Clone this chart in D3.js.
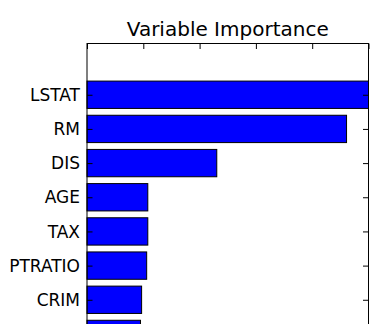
<!DOCTYPE html>
<html>
<head>
<meta charset="utf-8">
<script src="https://cdn.jsdelivr.net/npm/d3@7"></script>
<style>
  body { margin: 0; background: #fff; }
  svg { display: block; font-family: "DejaVu Sans", sans-serif; }
</style>
</head>
<body>
<svg id="chart"></svg>
<script>
// features, top to bottom (the rest of the plot is cut off below)
const features = ['LSTAT', 'RM', 'DIS', 'AGE', 'TAX', 'PTRATIO', 'CRIM', 'NOX'];
// relative importance, max = 100
const importance = [100, 92.2, 46.1, 21.6, 21.6, 21.2, 19.4, 19.0];
// bar slots on the y axis (matplotlib style: arange + .5, ylim 0..14)
const positions = [12.5, 11.5, 10.5, 9.5, 8.5, 7.5, 6.5, 5.5];
const xTicks = [0, 20, 40, 60, 80, 100];

const width = 392;
const height = 324;
const margin = { top: 43.5, left: 87, right: 23.5 };
const slot = 34.17;

const svg = d3.select('#chart').attr('width', width).attr('height', height);

const xScale = d3.scaleLinear().domain([0, 100]).range([margin.left, width - margin.right]);
const yScale = d3.scaleLinear().domain([14, 0]).range([margin.top, margin.top + 14 * slot]);

// bars
svg.selectAll('.bar')
    .data(features)
    .enter()
    .append('rect')
    .attr('class', 'bar')
    .attr('x', xScale(0))
    .attr('y', (d, i) => yScale(positions[i] + 0.4))
    .attr('width', (d, i) => xScale(importance[i]) - xScale(0))
    .attr('height', (d, i) => yScale(positions[i] - 0.4) - yScale(positions[i] + 0.4))
    .attr('fill', '#0000ff')
    .attr('stroke', '#000')
    .attr('stroke-width', 1);

// left axis ticks pointing inward
const leftAxis = svg.append('g')
    .attr('transform', `translate(${margin.left}, 0)`)
    .call(d3.axisLeft(yScale).tickValues(positions).tickFormat('')
        .tickSizeInner(-5.5).tickSizeOuter(0));
leftAxis.select('.domain').remove();

// labels only where they fall inside the picture (lower ones are cropped off)
svg.append('g')
    .selectAll('text')
    .data(features.filter((d, i) => yScale(positions[i]) + 8 < height))
    .enter()
    .append('text')
    .attr('x', margin.left - 7)
    .attr('y', (d, i) => yScale(positions[i]))
    .attr('dy', '0.36em')
    .attr('text-anchor', 'end')
    .attr('font-size', '17px')
    .attr('fill', '#000')
    .text(d => d);

// right axis ticks
const rightAxis = svg.append('g')
    .attr('transform', `translate(${width - margin.right}, 0)`)
    .call(d3.axisRight(yScale).tickValues(positions).tickFormat('')
        .tickSizeInner(-5.5).tickSizeOuter(0));
rightAxis.select('.domain').remove();

// top ticks
const topAxis = svg.append('g')
    .attr('transform', `translate(0, ${margin.top})`)
    .call(d3.axisTop(xScale).tickValues(xTicks).tickFormat('')
        .tickSizeInner(-5.5).tickSizeOuter(0));
topAxis.select('.domain').remove();

// frame
svg.append('rect')
    .attr('x', xScale(0))
    .attr('y', yScale(14))
    .attr('width', xScale(100) - xScale(0))
    .attr('height', yScale(0) - yScale(14))
    .attr('fill', 'none')
    .attr('stroke', '#000')
    .attr('stroke-width', 1);

// title
svg.append('text')
    .attr('x', (xScale(0) + xScale(100)) / 2)
    .attr('y', 35.5)
    .attr('text-anchor', 'middle')
    .attr('font-size', '20px')
    .attr('fill', '#000')
    .text('Variable Importance');
</script>
</body>
</html>
